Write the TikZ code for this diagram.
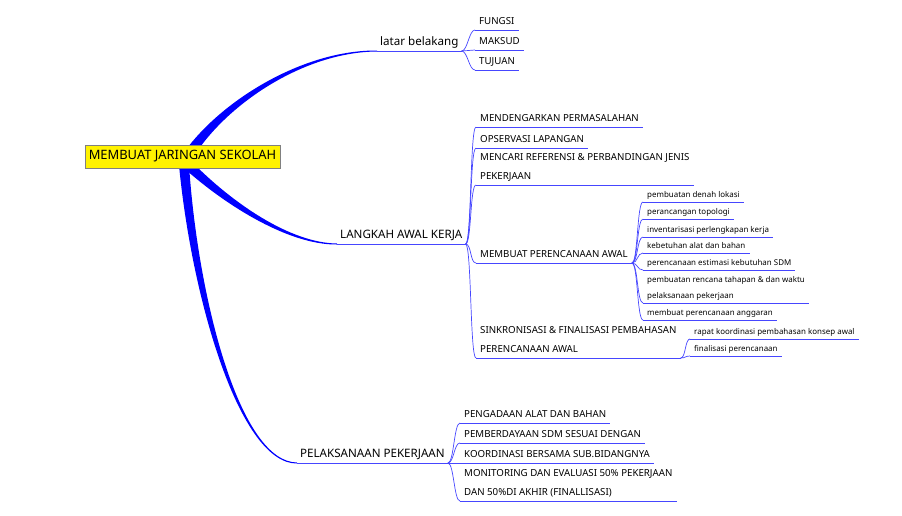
\documentclass[tikz,border=0pt]{standalone}
\usepackage{fontspec}
\setmainfont{Noto Sans}
\usetikzlibrary{calc,backgrounds}
\definecolor{twigblue}{RGB}{70,70,255}
\newcommand{\thickedge}[4]{%
  \fill[trunk] ($(#1)!5pt!90:(#2)$) .. controls ($(#2)!3pt!90:(#3)$) and ($(#3)!1pt!90:(#4)$) .. ($(#4)!0.5pt!-90:(#3)$)
    -- ($(#4)!0.5pt!90:(#3)$) .. controls ($(#3)!1pt!-90:(#4)$) and ($(#2)!3pt!-90:(#3)$) .. ($(#1)!5pt!-90:(#2)$) -- cycle;}

\begin{document}
\begin{tikzpicture}[x=1pt, y=-1pt,
  trunk/.style={fill=blue},
  twig/.style={draw=twigblue, line width=0.7pt},
  rootbox/.style={draw=gray, fill=yellow, minimum width=195pt, minimum height=23pt, inner sep=0pt, font=\fontsize{12.9}{15}\selectfont},
  lvlone/.style={anchor=south west, inner xsep=3pt, inner ysep=5.5pt, text depth=0pt, font=\fontsize{11.6}{14}\selectfont},
  lvltwo/.style={anchor=south west, inner xsep=4pt, inner ysep=5.8pt, text depth=0pt, align=left, font=\fontsize{9.7}{18.5}\selectfont},
  lvlthree/.style={anchor=south west, inner xsep=4pt, inner ysep=4.6pt, text depth=0pt, align=left, font=\fontsize{7.95}{16}\selectfont},
  fork/.style={twig} ]
  \useasboundingbox (0,0) rectangle (902,515);

  \node[rootbox] (root) at (182.5,156.5) {MEMBUAT JARINGAN SEKOLAH};

  \node[lvlone, inner ysep=5pt] (latar) at (377,51) {latar belakang};
  \node[lvltwo] (fungsi) at (475,30) {FUNGSI};
  \node[lvltwo] (maksud) at (475,50) {MAKSUD};
  \node[lvltwo] (tujuan) at (475,70) {TUJUAN};

  \node[lvlone] (langkah) at (337,244) {LANGKAH AWAL KERJA};
  \node[lvltwo] (mendengar) at (476,127) {MENDENGARKAN PERMASALAHAN};
  \node[lvltwo] (observasi) at (476,148) {OPSERVASI LAPANGAN};
  \node[lvltwo] (referensi) at (476,185) {MENCARI REFERENSI \& PERBANDINGAN JENIS\\PEKERJAAN};
  \node[lvltwo] (rencana) at (476,263) {MEMBUAT PERENCANAAN AWAL};
  \node[lvltwo] (sinkron) at (476,358) {SINKRONISASI \& FINALISASI PEMBAHASAN\\PERENCANAAN AWAL};

  \node[lvlthree] (denah) at (643,202) {pembuatan denah lokasi};
  \node[lvlthree] (topologi) at (643,219) {perancangan topologi};
  \node[lvlthree] (inventaris) at (643,237) {inventarisasi perlengkapan kerja};
  \node[lvlthree] (alat) at (643,253) {kebetuhan alat dan bahan};
  \node[lvlthree] (sdm) at (643,270) {perencanaan estimasi kebutuhan SDM};
  \node[lvlthree] (tahapan) at (643,303) {pembuatan rencana tahapan \& dan waktu\\pelaksanaan pekerjaan};
  \node[lvlthree] (anggaran) at (643,320) {membuat perencanaan anggaran};

  \node[lvlthree] (rapat) at (690,339) {rapat koordinasi pembahasan konsep awal};
  \node[lvlthree] (final) at (690,356) {finalisasi perencanaan};

  \node[lvlone] (pelaksana) at (297,463) {PELAKSANAAN PEKERJAAN};
  \node[lvltwo] (pengadaan) at (460,423) {PENGADAAN ALAT DAN BAHAN};
  \node[lvltwo] (berdaya) at (460,443) {PEMBERDAYAAN SDM SESUAI DENGAN};
  \node[lvltwo] (koordinasi) at (460,463) {KOORDINASI BERSAMA SUB.BIDANGNYA};
  \node[lvltwo] (monitor) at (460,501) {MONITORING DAN EVALUASI 50\% PEKERJAAN\\DAN 50\%DI AKHIR (FINALLISASI)};

  \foreach \n in {latar,fungsi,maksud,tujuan,langkah,mendengar,observasi,referensi,rencana,sinkron,
      denah,topologi,inventaris,alat,sdm,tahapan,anggaran,rapat,final,pelaksana,pengadaan,berdaya,koordinasi,monitor}
    \draw[twig] (\n.south west) -- (\n.south east);

  \begin{scope}[on background layer]
    \coordinate (upA) at ($(root.center)+(9.5,-6.5)$);
    \coordinate (upB) at (228,100);
    \coordinate (upC) at (305,51);
    \thickedge{upA}{upB}{upC}{latar.south west}
    \coordinate (midA) at ($(root.center)+(5.5,8.5)$);
    \coordinate (midB) at (230,205);
    \coordinate (midC) at (290,244);
    \thickedge{midA}{midB}{midC}{langkah.south west}
    \coordinate (lowA) at ($(root.center)+(1.5,8.5)$);
    \coordinate (lowB) at (195,300);
    \coordinate (lowC) at (240,463);
    \thickedge{lowA}{lowB}{lowC}{pelaksana.south west}
  \end{scope}

  \foreach \c in {fungsi,maksud,tujuan}
    \draw[fork] (latar.south east) .. controls +(6,0) and +(-6,0) .. (\c.south west);
  \foreach \c in {mendengar,observasi,referensi,rencana,sinkron}
    \draw[fork] (langkah.south east) .. controls +(6,0) and +(-6,0) .. (\c.south west);
  \foreach \c in {denah,topologi,inventaris,alat,sdm,tahapan,anggaran}
    \draw[fork] (rencana.south east) .. controls +(6,0) and +(-6,0) .. (\c.south west);
  \foreach \c in {rapat,final}
    \draw[fork] (sinkron.south east) .. controls +(5,0) and +(-5,0) .. (\c.south west);
  \foreach \c in {pengadaan,berdaya,koordinasi,monitor}
    \draw[fork] (pelaksana.south east) .. controls +(6,0) and +(-6,0) .. (\c.south west);
\end{tikzpicture}
\end{document}
